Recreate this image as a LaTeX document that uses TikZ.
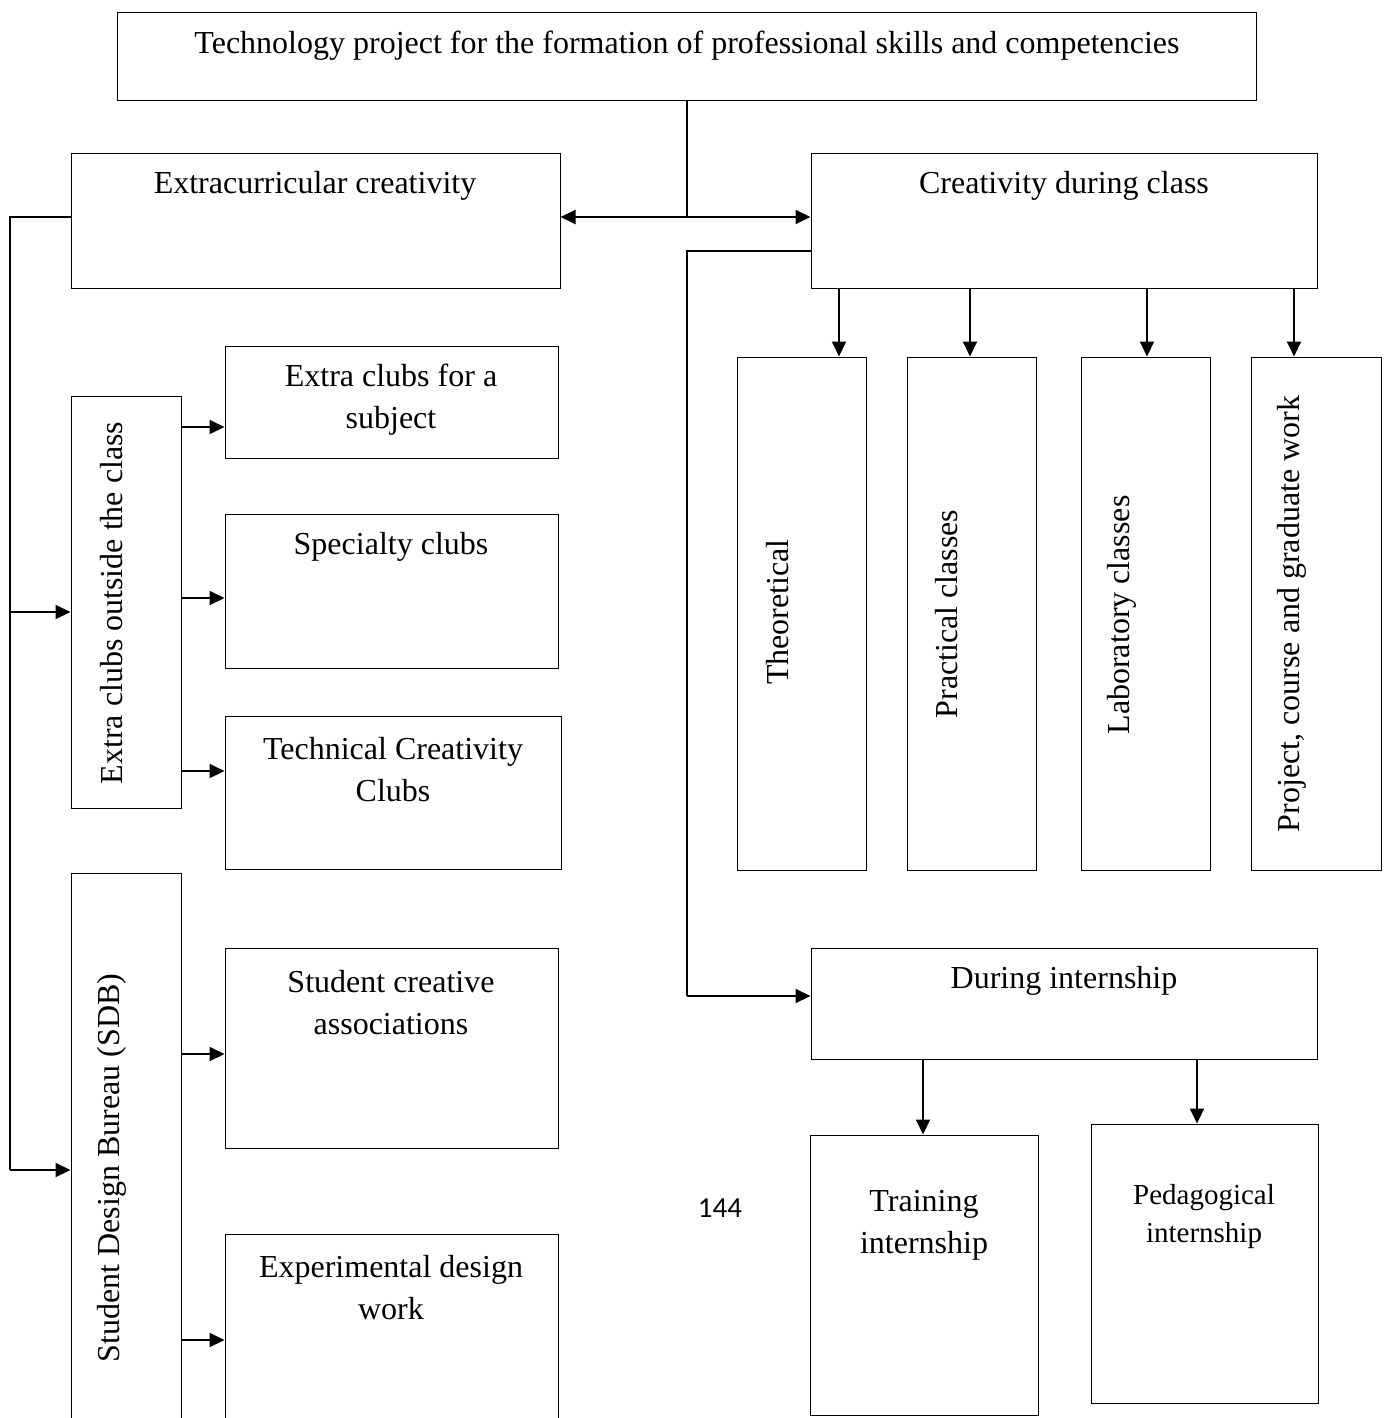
\documentclass[tikz,border=0pt]{standalone}
\usepackage{fontspec}
\setmainfont{Liberation Serif}
\newfontfamily\pagenum{Carlito}
\usetikzlibrary{positioning, fit, arrows.meta}

\begin{document}
\begin{tikzpicture}[x=0.5pt, y=-0.5pt,
    box/.style={draw, line width=0.5pt, inner sep=0pt},
    txt/.style={align=center, inner sep=0pt, font=\fontsize{16}{21}\selectfont},
    vtxt/.style={txt, rotate=90},
    ln/.style={line width=1pt},
    arr/.style={line width=1pt, -{Triangle[length=7.5pt,width=7pt]}}]
    \useasboundingbox (0,0) rectangle (1389,1418);
    \clip (0,0) rectangle (1389,1418);

    % top level
    \node[box, fit={(117,13) (1256,101)}] (top) {};
    \node[txt] (toptxt) at (687,46) {Technology project for the formation of professional skills and competencies};
    \node[box, fit={(71,153) (560,288)}] (extra) {};
    \node[txt] (extratxt) at (315,186) {Extracurricular creativity};
    \node[box, fit={(811,153) (1317,288)}] (class) {};
    \node[txt] (classtxt) at (1064,186) {Creativity during class};

    % left branch
    \node[box, fit={(71,396) (181,808)}] (clubs) {};
    \node[vtxt] (clubstxt) at (112,603) {Extra clubs outside the class};
    \node[box, fit={(225,346) (558,458)}] (subj) {};
    \node[txt] (subjtxt) at (391,400) {Extra clubs for a\\subject};
    \node[box, fit={(225,514) (558,668)}] (spec) {};
    \node[txt] (spectxt) at (391,547) {Specialty clubs};
    \node[box, fit={(225,716) (561,869)}] (tech) {};
    \node[txt] (techtxt) at (393,770) {Technical Creativity\\Clubs};
    \node[box, fit={(71,873) (181,1467)}] (sdb) {};
    \node[vtxt] (sdbtxt) at (112,1168) {Student Design Bureau (SDB)};
    \node[box, fit={(225,948) (558,1148)}] (assoc) {};
    \node[txt] (assoctxt) at (391,1003) {Student creative\\associations};
    \node[box, fit={(225,1234) (558,1446)}] (exper) {};
    \node[txt] (expertxt) at (391,1288) {Experimental design\\work};

    % right branch
    \node[box, fit={(737,357) (866,870)}] (theo) {};
    \node[vtxt] (theotxt) at (778,612) {Theoretical};
    \node[box, fit={(907,357) (1036,870)}] (pract) {};
    \node[vtxt] (practtxt) at (947,614) {Practical classes};
    \node[box, fit={(1081,357) (1210,870)}] (lab) {};
    \node[vtxt] (labtxt) at (1122,615) {Laboratory classes};
    \node[box, fit={(1251,357) (1381,870)}] (proj) {};
    \node[vtxt] (projtxt) at (1292,614) {Project, course and graduate work};
    \node[box, fit={(811,948) (1317,1059)}] (intern) {};
    \node[txt] (interntxt) at (1064,981) {During internship};
    \node[box, fit={(810,1135) (1038,1415)}] (train) {};
    \node[txt] (traintxt) at (924,1225) {Training\\internship};
    \node[box, fit={(1091,1124) (1318,1403)}] (ped) {};
    \node[txt, font=\fontsize{14.5}{19}\selectfont] (pedtxt) at (1204,1217) {Pedagogical\\internship};
    \node[inner sep=0pt, font=\pagenum\fontsize{14.5}{16}\selectfont] (page) at (720,1208) {144};

    % connectors
    \coordinate (split) at (687,217);
    \coordinate (lturn) at (10,217);
    \coordinate (rturn) at (687,251);
    \draw[ln] (top.south -| split) -- (split);
    \draw[ln, {Triangle[length=7.5pt,width=7pt]}-{Triangle[length=7.5pt,width=7pt]}] (extra.east |- split) -- (class.west |- split);
    \draw[ln] (extra.west |- lturn) -- (lturn) -- (lturn |- sdb.west);
    \draw[arr] (lturn |- sdb.west) -- (sdb.west);
    \draw[arr] (lturn |- 0,612) -- (clubs.west |- 0,612);
    \draw[arr] (clubs.east |- 0,427) -- (subj.west |- 0,427);
    \draw[arr] (clubs.east |- 0,598) -- (spec.west |- 0,598);
    \draw[arr] (clubs.east |- 0,771) -- (tech.west |- 0,771);
    \draw[arr] (sdb.east |- 0,1054) -- (assoc.west |- 0,1054);
    \draw[arr] (sdb.east |- exper.west) -- (exper.west);
    \draw[arr] (class.south -| 839,0) -- (theo.north -| 839,0);
    \draw[arr] (class.south -| 970,0) -- (pract.north -| 970,0);
    \draw[arr] (class.south -| 1147,0) -- (lab.north -| 1147,0);
    \draw[arr] (class.south -| 1294,0) -- (proj.north -| 1294,0);
    \draw[ln] (class.west |- rturn) -- (rturn) -- (rturn |- 0,996);
    \draw[arr] (rturn |- 0,996) -- (intern.west |- 0,996);
    \draw[arr] (intern.south -| 923,0) -- (train.north -| 923,0);
    \draw[arr] (intern.south -| 1197,0) -- (ped.north -| 1197,0);
\end{tikzpicture}
\end{document}
